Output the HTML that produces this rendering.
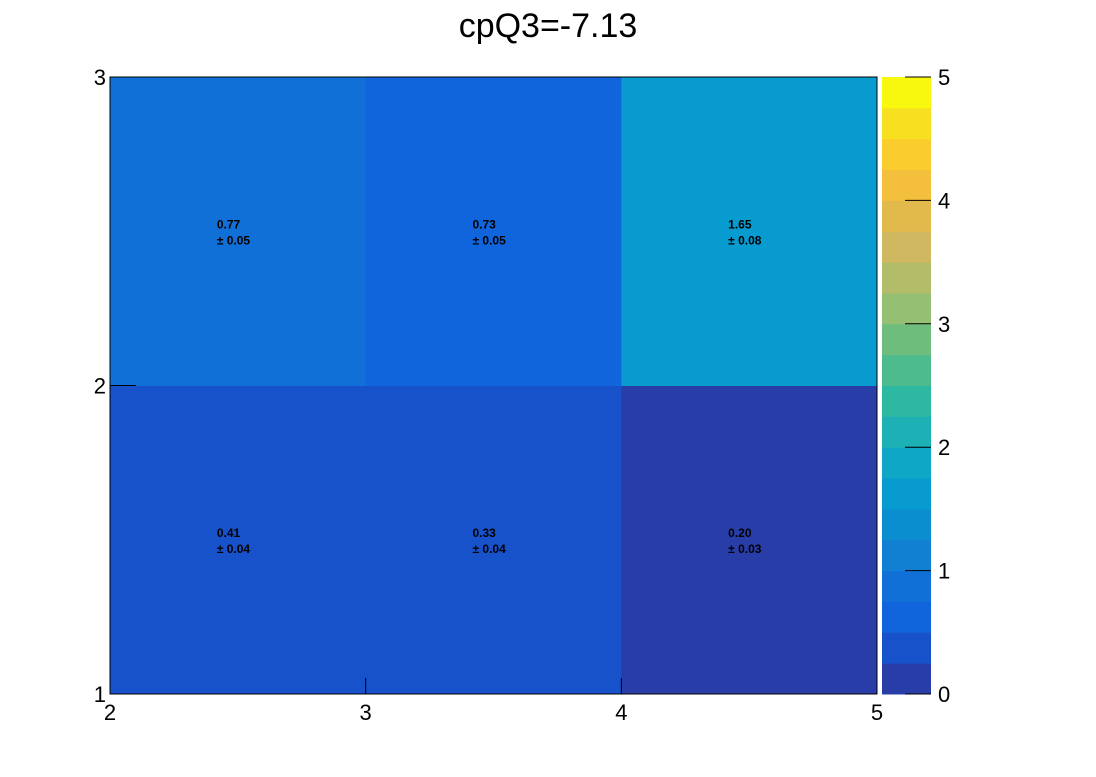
<!DOCTYPE html>
<html><head><meta charset="utf-8"><style>
html,body{margin:0;padding:0;background:#fff;}
svg text{font-family:"Liberation Sans",sans-serif;}
</style></head><body>
<svg id="c" width="1096" height="772" xmlns="http://www.w3.org/2000/svg">
<text x="548" y="37" font-size="34" text-anchor="middle">cpQ3=-7.13</text>
<g id="cells"></g>
<g id="labels"></g>
<g id="cbar"></g>
<rect x="110" y="77" width="767" height="617" fill="none" stroke="#000" stroke-width="1"/>
<g id="axes"></g>
</svg>
<script>
const xEdges=[2,3,4,5];
const yEdges=[1,2,3];
const values=[[0.41,0.33,0.20],[0.77,0.73,1.65]];
const errors=[[0.04,0.04,0.03],[0.05,0.05,0.08]];
const xTicks=["2","3","4","5"];
const yTicks=["1","2","3"];
const zTicks=["0","1","2","3","4","5"];
const zMax=5;
const palette=["#283da8","#1852cb","#1064dc","#1170d8","#1280d2","#0b8ed0","#089bcf","#0ea8c6","#1db0b5","#2db8a2","#4dbb8d","#6fbd7c","#95bf72","#b3bc69","#d0b860","#e2ba4c","#f3bf3c","#fbcc2e","#f7e01f","#f8f80f"];
const NS="http://www.w3.org/2000/svg";
const X0=110,X1=877,Y0=694,Y1=77;
const sx=v=>X0+(v-2)/(3)*(X1-X0);
const sy=v=>Y0-(v-1)/(2)*(Y0-Y1);
const cb={x:882,w:49};
const sz=v=>Y0-v/zMax*(Y0-Y1);
function mk(t,a,p){const e=document.createElementNS(NS,t);for(const k in a)e.setAttribute(k,a[k]);p.appendChild(e);return e;}
function col(v){let i=Math.floor(v/zMax*palette.length);return palette[Math.max(0,Math.min(palette.length-1,i))];}
const cells=document.getElementById('cells'),labels=document.getElementById('labels'),axes=document.getElementById('axes'),cbg=document.getElementById('cbar');
for(let j=0;j<yEdges.length-1;j++)for(let i=0;i<xEdges.length-1;i++){
 const x=sx(xEdges[i]),x2=sx(xEdges[i+1]),y=sy(yEdges[j+1]),y2=sy(yEdges[j]);
 const r=mk('rect',{x:x,y:y,width:x2-x+0.5,height:y2-y+0.5,fill:col(values[j][i])},cells);
 
 
 const cx=(x+x2)/2-21,cy=(y+y2)/2;
 const t1=mk('text',{x:cx,y:cy-3,'font-size':12,'font-weight':'bold'},labels);t1.textContent=values[j][i].toFixed(2);
 
 
 const t2=mk('text',{x:cx,y:cy+13,'font-size':12,'font-weight':'bold'},labels);t2.textContent="± "+errors[j][i].toFixed(2);
 
 
}
for(let k=0;k<palette.length;k++){
 const a=k*zMax/palette.length,b=(k+1)*zMax/palette.length;
 const r=mk('rect',{x:cb.x,y:sz(b),width:cb.w,height:sz(a)-sz(b)+0.5,fill:palette[k]},cbg);
 
 
}
zTicks.forEach(t=>{const y=sz(+t);
 mk('line',{x1:cb.x+cb.w-26,x2:cb.x+cb.w,y1:y,y2:y,stroke:'#000'},cbg);
 const e=mk('text',{x:938,y:y+8,'font-size':22},cbg);e.textContent=t;
 
 
});
xTicks.forEach(t=>{const x=sx(+t);
 mk('line',{x1:x,x2:x,y1:Y0,y2:Y0-16,stroke:'#000'},axes);
 const e=mk('text',{x:x,y:Y0+26,'font-size':22,'text-anchor':'middle'},axes);e.textContent=t;
 
 
});
yTicks.forEach(t=>{const y=sy(+t);
 mk('line',{x1:X0,x2:X0+26,y1:y,y2:y,stroke:'#000'},axes);
 const e=mk('text',{x:X0-4,y:y+8,'font-size':22,'text-anchor':'end'},axes);e.textContent=t;
 
 
});
</script>
</body></html>
